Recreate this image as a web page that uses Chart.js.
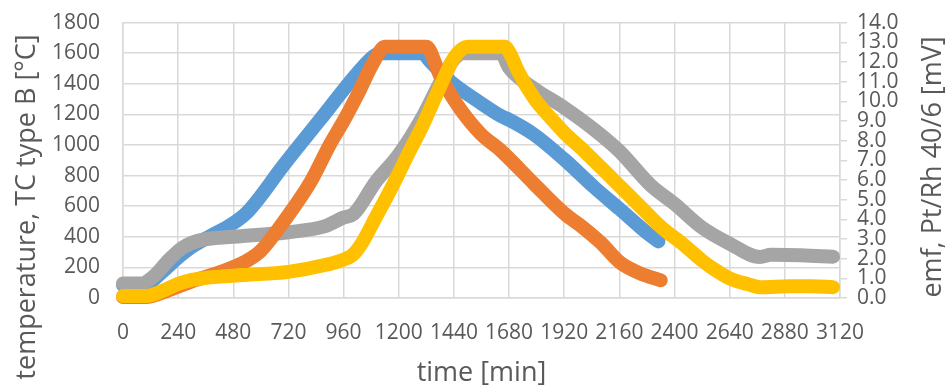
<!DOCTYPE html>
<html lang="en">
<head>
    <meta charset="UTF-8">
    <title>Temperature and emf vs time</title>
    <script src="https://cdn.jsdelivr.net/npm/chart.js"></script>
    <style>
        body { margin: 0; background: #ffffff; }
        .chart-box { width: 949px; height: 390px; position: relative; }
    </style>
</head>
<body>
    <div class="chart-box">
        <canvas id="tcChart"></canvas>
    </div>

    <script>
        // time [min] and temperature [°C] - left axis
        const blueTime = [0, 90, 170, 240, 300, 380, 460, 540, 700, 860, 1020, 1100, 1130, 1300, 1340, 1425, 1556, 1644, 1680, 1789, 1920, 2051, 2160, 2284, 2330];
        const blueTemp = [85, 85, 170, 265, 335, 405, 470, 560, 870, 1170, 1470, 1590, 1600, 1600, 1540, 1415, 1275, 1190, 1165, 1068, 906, 723, 583, 421, 370];

        const grayTime = [0, 80, 140, 200, 260, 330, 480, 720, 880, 960, 1004, 1100, 1200, 1309, 1374, 1440, 1480, 1645, 1680, 1789, 1920, 2051, 2160, 2298, 2400, 2520, 2640, 2772, 2820, 2950, 3090];
        const grayTemp = [95, 95, 150, 250, 330, 375, 400, 430, 470, 526, 550, 760, 937, 1199, 1392, 1560, 1600, 1600, 1505, 1369, 1244, 1100, 960, 734, 615, 460, 355, 268, 283, 280, 270];

        // time [min] and emf [mV] - right axis
        const orangeTime = [0, 100, 200, 300, 420, 540, 600, 700, 816, 900, 960, 1019, 1091, 1140, 1320, 1380, 1455, 1556, 1644, 1789, 1920, 2000, 2080, 2163, 2250, 2340];
        const orangeEmf = [0.05, 0.05, 0.4, 0.85, 1.3, 1.9, 2.4, 3.9, 5.9, 7.8, 9.0, 10.3, 12.0, 12.77, 12.77, 11.3, 9.82, 8.35, 7.5, 5.8, 4.3, 3.6, 2.8, 1.8, 1.25, 0.9];

        const yellowTime = [0, 100, 180, 240, 300, 381, 525, 720, 888, 960, 1000, 1040, 1100, 1164, 1240, 1309, 1382, 1440, 1480, 1500, 1660, 1690, 1716, 1789, 1862, 1920, 2007, 2080, 2160, 2255, 2342, 2430, 2520, 2573, 2639, 2720, 2776, 2900, 3000, 3090];
        const yellowEmf = [0.1, 0.1, 0.4, 0.72, 0.92, 1.05, 1.17, 1.33, 1.7, 1.95, 2.2, 2.8, 4.1, 5.5, 7.3, 8.9, 10.8, 12.2, 12.7, 12.77, 12.77, 12.3, 11.6, 10.15, 9.14, 8.4, 7.47, 6.63, 5.71, 4.6, 3.6, 2.8, 1.9, 1.45, 1.0, 0.7, 0.55, 0.6, 0.6, 0.55];

        const leftTitle = 'temperature, TC type B [°C]';
        const rightTitle = 'emf, Pt/Rh 40/6 [mV]';
        const xTitle = 'time [min]';

        const textColor = '#595959';
        const gridColor = '#d9d9d9';
        const fontFamily = "'Open Sans', 'Noto Sans', sans-serif";

        function toPoints(xs, ys) {
            return xs.map((x, i) => ({ x: x, y: ys[i] }));
        }

        function lineSet(label, xs, ys, color, axis, order) {
            return {
                label: label,
                data: toPoints(xs, ys),
                yAxisID: axis,
                borderColor: color,
                backgroundColor: color,
                borderWidth: 14,
                borderCapStyle: 'round',
                borderJoinStyle: 'round',
                pointRadius: 0,
                tension: 0.4,
                cubicInterpolationMode: 'monotone',
                clip: false,
                order: order
            };
        }

        // both vertical titles read bottom to top, drawn by hand
        const sideTitles = {
            id: 'sideTitles',
            afterDraw(chart) {
                const ctx = chart.ctx;
                const spots = [[leftTitle, 27, 207], [rightTitle, 933, 167]];
                spots.forEach(([text, x, y]) => {
                    ctx.save();
                    ctx.fillStyle = textColor;
                    ctx.font = `27px ${fontFamily}`;
                    ctx.textAlign = 'center';
                    ctx.textBaseline = 'middle';
                    ctx.translate(x, y);
                    ctx.rotate(-Math.PI / 2);
                    ctx.fillText(text, 0, 0);
                    ctx.restore();
                });
            }
        };

        const plainNumber = (v) => String(v);

        new Chart(document.getElementById('tcChart'), {
            type: 'line',
            data: {
                datasets: [
                    lineSet('TC type B', blueTime, blueTemp, '#5b9bd5', 'y', 4),
                    lineSet('emf 1', orangeTime, orangeEmf, '#ed7d31', 'y1', 2),
                    lineSet('TC type B 2', grayTime, grayTemp, '#a5a5a5', 'y', 3),
                    lineSet('emf 2', yellowTime, yellowEmf, '#ffc000', 'y1', 1)
                ]
            },
            options: {
                responsive: true,
                maintainAspectRatio: false,
                animation: false,
                layout: { padding: { top: 21, left: 0, right: 0, bottom: 0 } },
                plugins: {
                    legend: { display: false },
                    tooltip: { enabled: false }
                },
                scales: {
                    x: {
                        type: 'linear',
                        min: 0,
                        max: 3120,
                        afterFit(scale) { scale.height = 92; },
                        grid: { color: gridColor, lineWidth: 1.5, drawTicks: false },
                        border: { color: gridColor, width: 1.5 },
                        ticks: {
                            stepSize: 240,
                            autoSkip: false,
                            maxRotation: 0,
                            padding: 22,
                            color: textColor,
                            font: { family: fontFamily, size: 21 },
                            callback: plainNumber
                        },
                        title: {
                            display: true,
                            text: xTitle,
                            color: textColor,
                            padding: 0,
                            font: { family: fontFamily, size: 27 }
                        }
                    },
                    y: {
                        position: 'left',
                        min: 0,
                        max: 1800,
                        afterFit(scale) { scale.width = 123; },
                        // invisible tick marks keep the labels off the plot without growing the top padding
                        grid: { color: gridColor, lineWidth: 1.5, drawTicks: true, tickLength: 20, tickColor: 'rgba(0,0,0,0)' },
                        border: { color: gridColor, width: 1.5 },
                        ticks: {
                            stepSize: 200,
                            autoSkip: false,
                            padding: 3,
                            color: textColor,
                            font: { family: fontFamily, size: 21 },
                            callback: plainNumber
                        }
                    },
                    y1: {
                        position: 'right',
                        min: 0,
                        max: 14,
                        afterFit(scale) { scale.width = 109; },
                        grid: { drawOnChartArea: false, color: gridColor, lineWidth: 1.5, tickLength: 7 },
                        border: { color: gridColor, width: 1.5 },
                        ticks: {
                            stepSize: 1,
                            autoSkip: false,
                            padding: 10,
                            color: textColor,
                            font: { family: fontFamily, size: 21 },
                            callback: (v) => Number(v).toFixed(1)
                        }
                    }
                }
            },
            plugins: [sideTitles]
        });
    </script>
</body>
</html>
